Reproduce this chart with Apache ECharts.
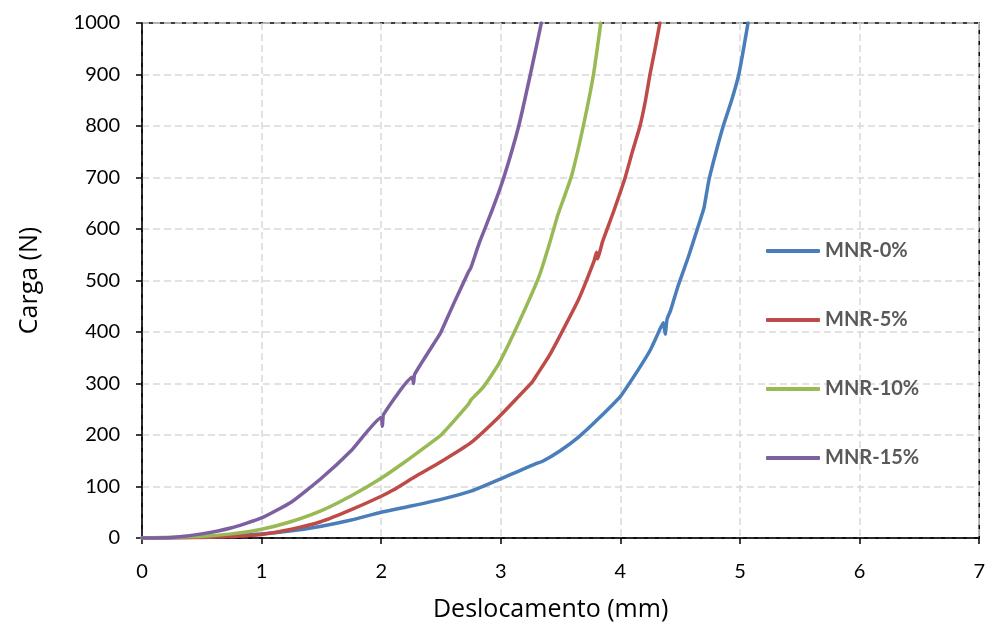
<!DOCTYPE html>
<html>
<head>
<meta charset="utf-8">
<script src="https://cdn.jsdelivr.net/npm/echarts@6/dist/echarts.min.js"></script>
<style>
  html, body { margin: 0; padding: 0; background: #fff; }
  #chart { width: 988px; height: 627px; }
</style>
</head>
<body>
<div id="chart"></div>
<script>
// Load–displacement curves, [displacement (mm), load (N)]
const seriesNames = ['MNR-0%', 'MNR-5%', 'MNR-10%', 'MNR-15%'];

const mnr0 = [
  [0,0],[0.25,0.5],[0.5,2],[0.75,4.5],[1,8],[1.25,14],[1.5,23],[1.75,35],[2,50],
  [2.25,62],[2.5,75],[2.75,91],[3,115],[3.15,130],[3.3,145],[3.35,149],[3.5,170],
  [3.65,196],[3.8,228],[4,275],[4.15,327],[4.25,365],[4.34,410],[4.36,418],[4.375,396],
  [4.39,425],[4.42,442],[4.48,488],[4.57,547],[4.65,605],[4.69,634],[4.7,642],
  [4.74,695],[4.8,750],[4.86,800],[4.93,850],[4.99,900],[5.03,950],[5.067,1000]
];

const mnr5 = [
  [0,0],[0.5,1],[0.75,3],[1,7],[1.25,17],[1.5,32],[1.75,55],[2,81],[2.1,93],
  [2.275,118],[2.5,148],[2.75,185],[2.98,234],[3.15,275],[3.26,302],[3.3,316],
  [3.4,352],[3.5,395],[3.65,463],[3.78,538],[3.8,555],[3.81,542],[3.85,575],
  [3.94,632],[4.04,700],[4.1,750],[4.164,800],[4.21,850],[4.247,900],[4.29,950],[4.33,1000]
];

const mnr10 = [
  [0,0],[0.5,3],[0.75,8],[1,17],[1.25,32],[1.5,53],[1.75,82],[2,116],[2.2,148],
  [2.375,178],[2.5,200],[2.73,260],[2.75,268],[2.85,292],[2.98,337],[3.15,418],
  [3.32,508],[3.4,566],[3.478,628],[3.53,662],[3.594,705],[3.69,800],[3.775,900],[3.836,1000]
];

const mnr15 = [
  [0,0],[0.25,1],[0.5,8],[0.75,20],[1,39],[1.25,70],[1.5,116],[1.75,170],[2,234],
  [2.01,217],[2.02,240],[2.26,312],[2.27,300],[2.28,318],[2.48,392],[2.5,400],
  [2.61,457],[2.73,517],[2.75,525],[2.82,573],[2.93,638],[3.025,700],[3.15,800],
  [3.247,900],[3.339,1000]
];

const seriesData = [mnr0, mnr5, mnr10, mnr15];
const seriesColors = ['#4A7EBB', '#BE4B48', '#98B954', '#7D60A0'];

const xTicks = { min: 0, max: 7, interval: 1 };
const yTicks = { min: 0, max: 1000, interval: 100 };

const TICK_FONT = 'Lato, "Open Sans", sans-serif';
const TITLE_FONT = '"Open Sans", Lato, sans-serif';

const chart = echarts.init(document.getElementById('chart'), null, { renderer: 'canvas' });

chart.setOption({
  animation: false,
  backgroundColor: '#ffffff',
  grid: {
    left: 142, right: 7, top: 23, bottom: 88,
    show: true, borderColor: '#000', borderWidth: 1.5, backgroundColor: 'transparent'
  },
  legend: {
    orient: 'vertical',
    left: 761,
    top: 236,
    itemWidth: 54,
    itemHeight: 4,
    itemGap: 49,
    icon: 'roundRect',
    data: seriesNames,
    textStyle: {
      fontFamily: TICK_FONT, fontSize: 20, fontWeight: 'bold', color: '#595959', lineHeight: 20
    }
  },
  xAxis: {
    type: 'value',
    min: xTicks.min, max: xTicks.max, interval: xTicks.interval,
    name: 'Deslocamento (mm)',
    nameLocation: 'middle',
    nameGap: 59,
    nameTextStyle: { fontFamily: TITLE_FONT, fontSize: 25, color: '#000', padding: [0, 20, 0, 0] },
    axisLine: { lineStyle: { color: '#000', width: 1.5 } },
    axisTick: { show: true, inside: false, length: 6, lineStyle: { color: '#000', width: 1.5 } },
    axisLabel: { fontFamily: TICK_FONT, fontSize: 20, color: '#000', margin: 24 },
    splitLine: { show: true, lineStyle: { color: '#d9d9d9', width: 1.5, type: [7, 4] } }
  },
  yAxis: {
    type: 'value',
    min: yTicks.min, max: yTicks.max, interval: yTicks.interval,
    name: 'Carga (N)',
    nameLocation: 'middle',
    nameGap: 100,
    nameRotate: 90,
    nameTextStyle: { fontFamily: TITLE_FONT, fontSize: 25, color: '#000' },
    axisLine: { show: true, lineStyle: { color: '#000', width: 1.5 } },
    axisTick: { show: true, inside: false, length: 6, lineStyle: { color: '#000', width: 1.5 } },
    axisLabel: {
      fontFamily: TICK_FONT, fontSize: 20, color: '#000', margin: 22,
      formatter: (v) => String(v)
    },
    splitLine: { show: true, lineStyle: { color: '#d9d9d9', width: 1.5, type: [7, 4] } }
  },
  series: seriesNames.map((name, i) => ({
    name: name,
    type: 'line',
    data: seriesData[i],
    showSymbol: false,
    symbol: 'none',
    smooth: 0.15,
    color: seriesColors[i],
    lineStyle: { width: 3.5, color: seriesColors[i], cap: 'round', join: 'round' },
    emphasis: { disabled: true }
  }))
});
</script>
</body>
</html>
